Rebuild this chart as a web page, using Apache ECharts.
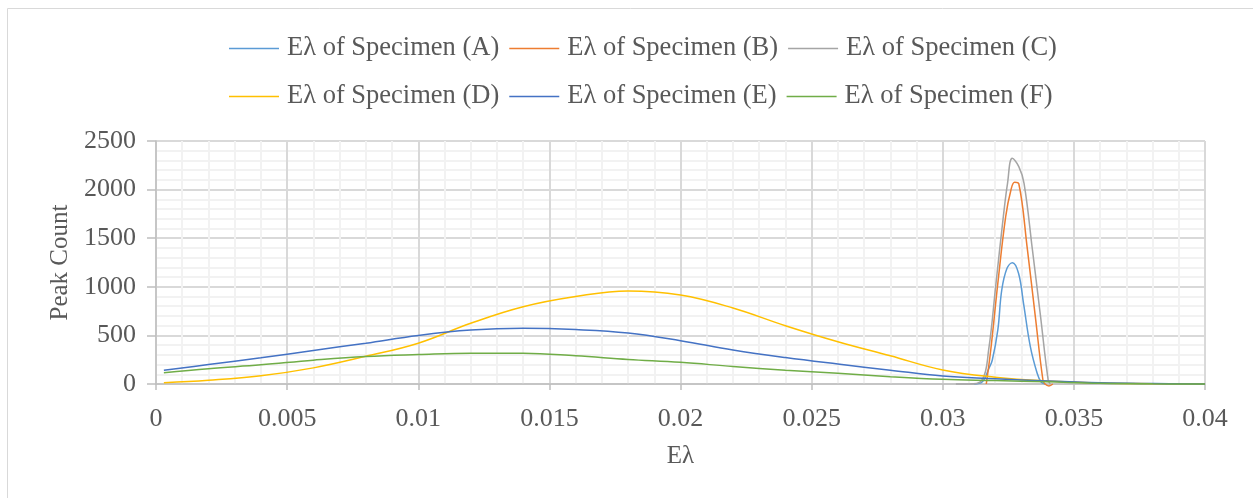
<!DOCTYPE html>
<html>
<head>
<meta charset="utf-8">
<script src="https://cdn.jsdelivr.net/npm/echarts@6/dist/echarts.min.js"></script>
<style>
html,body{margin:0;padding:0;background:#fff;}
#chart{width:1253px;height:498px;}
</style>
</head>
<body>
<div id="chart"></div>
<script>
// ---- data ----
const seriesNames = ['Eλ of Specimen (A)','Eλ of Specimen (B)','Eλ of Specimen (C)','Eλ of Specimen (D)','Eλ of Specimen (E)','Eλ of Specimen (F)'];
const xTicks = [0, 0.005, 0.01, 0.015, 0.02, 0.025, 0.03, 0.035, 0.04];
const yTicks = [0, 500, 1000, 1500, 2000, 2500];

const xA = [0.0312, 0.0315, 0.03176, 0.03189, 0.0321, 0.03225, 0.03245, 0.03266, 0.03289, 0.03308, 0.03334, 0.0336, 0.03375, 0.0339];
const yA = [0, 20, 161, 247, 556, 967, 1190, 1248, 1139, 830, 384, 110, 20, 0];

const xB = [0.03166, 0.03183, 0.0321, 0.0324, 0.0326, 0.03274, 0.0329, 0.03323, 0.03353, 0.03382, 0.0339, 0.03405, 0.0342];
const yB = [0, 350, 1036, 1722, 1996, 2075, 2060, 1379, 693, 41, 0, -20, 0];

const xC = [0.0305, 0.0310, 0.0315, 0.03175, 0.03203, 0.03231, 0.03247, 0.03265, 0.0329, 0.0331, 0.03342, 0.03373, 0.03402, 0.0341];
const yC = [0, 0, 41, 350, 1036, 1722, 2065, 2322, 2236, 2065, 1379, 693, 41, 0];

const xD = [0.0003, 0.002, 0.004, 0.006, 0.008, 0.010, 0.012, 0.014, 0.016, 0.018, 0.020, 0.022, 0.024, 0.026, 0.028, 0.030, 0.032, 0.034, 0.036, 0.038, 0.040];
const yD = [14, 39, 85, 166, 285, 420, 625, 795, 900, 958, 915, 782, 600, 435, 290, 144, 70, 30, 10, 3, 0];

const xE = [0.0003, 0.002, 0.004, 0.006, 0.008, 0.010, 0.012, 0.014, 0.016, 0.018, 0.020, 0.022, 0.024, 0.026, 0.028, 0.030, 0.032, 0.034, 0.036, 0.038, 0.040];
const yE = [141, 200, 270, 345, 420, 500, 555, 573, 560, 525, 446, 350, 272, 205, 142, 82, 55, 30, 12, 4, 0];

const xF = [0.0003, 0.002, 0.004, 0.006, 0.008, 0.010, 0.012, 0.014, 0.016, 0.018, 0.020, 0.022, 0.024, 0.026, 0.028, 0.030, 0.032, 0.034, 0.036, 0.038, 0.040];
const yF = [116, 158, 198, 245, 283, 303, 317, 316, 290, 253, 223, 180, 142, 110, 75, 48, 35, 22, 7, 2, 0];

const colors = ['#5B9BD5', '#ED7D31', '#A5A5A5', '#FFC000', '#4472C4', '#70AD47'];

// ---- build ----
const xs = [xA, xB, xC, xD, xE, xF];
const ys = [yA, yB, yC, yD, yE, yF];
const pair = (x, y) => x.map((v, i) => [v, y[i]]);

const FONT = '"Liberation Serif", "Times New Roman", serif';
const TXT = '#595959';

const chart = echarts.init(document.getElementById('chart'), null, {renderer: 'canvas'});

const legendCommon = {
  orient: 'horizontal',
  left: 224,
  itemWidth: 50,
  itemHeight: 14,
  itemGap: 10,
  icon: 'path://M0,7 L50,7 L50,8.5 L0,8.5 Z',
  textStyle: {fontFamily: FONT, fontSize: 26.5, color: TXT, padding: [0, 0, 0, 3]}
};

chart.setOption({
  animation: false,
  color: colors,
  graphic: [{
    type: 'rect',
    shape: {x: 7.5, y: 8.5, width: 1400, height: 700},
    style: {fill: 'none', stroke: '#D9D9D9', lineWidth: 1},
    silent: true
  }],
  legend: [
    Object.assign({}, legendCommon, {top: 30, data: seriesNames.slice(0, 3)}),
    Object.assign({}, legendCommon, {top: 78, data: seriesNames.slice(3, 6)})
  ],
  grid: {left: 156, right: 48, top: 141, bottom: 114, containLabel: false},
  xAxis: {
    type: 'value',
    min: xTicks[0],
    max: xTicks[xTicks.length - 1],
    interval: xTicks[1] - xTicks[0],
    name: 'Eλ',
    nameLocation: 'middle',
    nameGap: 60,
    nameTextStyle: {fontFamily: FONT, fontSize: 25, color: TXT},
    axisLine: {show: true, lineStyle: {color: '#BFBFBF', width: 1.5}},
    axisTick: {show: true, length: 6, lineStyle: {color: '#BFBFBF', width: 1.5}},
    axisLabel: {
      fontFamily: FONT, fontSize: 26, color: TXT, margin: 22,
      formatter: v => String(+v.toFixed(3))
    },
    splitLine: {show: true, lineStyle: {color: '#D9D9D9', width: 2}},
    minorTick: {show: false, splitNumber: 5},
    minorSplitLine: {show: true, lineStyle: {color: '#F2F2F2', width: 2}}
  },
  yAxis: {
    type: 'value',
    min: yTicks[0],
    max: yTicks[yTicks.length - 1],
    interval: yTicks[1] - yTicks[0],
    name: 'Peak Count',
    nameLocation: 'middle',
    nameGap: 80,
    nameTextStyle: {fontFamily: FONT, fontSize: 25, color: TXT},
    axisLine: {show: true, lineStyle: {color: '#BFBFBF', width: 1.5}},
    axisTick: {show: true, length: 9, lineStyle: {color: '#BFBFBF', width: 1.5}},
    axisLabel: {fontFamily: FONT, fontSize: 26, color: TXT, margin: 20, formatter: v => String(v)},
    splitLine: {show: true, lineStyle: {color: '#D9D9D9', width: 2}},
    minorTick: {show: false, splitNumber: 5},
    minorSplitLine: {show: true, lineStyle: {color: '#F2F2F2', width: 2}}
  },
  series: seriesNames.map((n, i) => ({
    name: n,
    type: 'line',
    data: pair(xs[i], ys[i]),
    symbol: 'none',
    smooth: 0.4,
    clip: false,
    lineStyle: {width: 1.5, color: colors[i]},
    itemStyle: {color: colors[i]}
  }))
});
</script>
</body>
</html>
